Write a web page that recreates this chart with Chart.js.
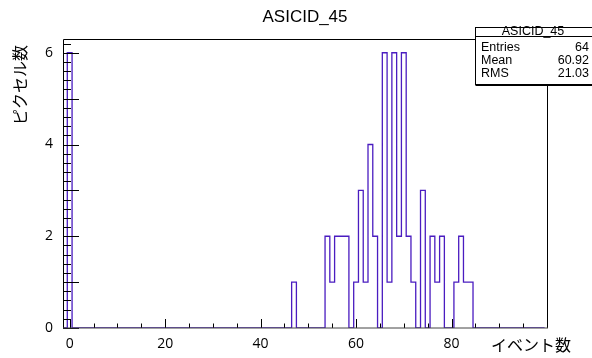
<!DOCTYPE html>
<html>
<head>
<meta charset="utf-8">
<script src="https://cdn.jsdelivr.net/npm/chart.js@4/dist/chart.umd.min.js"></script>
<style>
  html, body { margin: 0; padding: 0; background: #fff; }
  #wrap { width: 592px; height: 358px; position: relative; }
</style>
</head>
<body>
<div id="wrap"><canvas id="hist"></canvas></div>
<script>
const TITLE = 'ASICID_45';
const X_TITLE = 'イベント数';
const Y_TITLE = 'ピクセル数';

// filled bins (bin centre) and their counts, everything else is empty
const filledBins = [0, 47, 54, 55, 56, 57, 58, 60, 61, 62, 63, 64, 66, 67, 68, 69, 70, 71, 72, 74, 76, 77, 78, 81, 82, 83, 84];
const binCounts  = [6, 1, 2, 1, 2, 2, 2, 1, 3, 1, 4, 2, 6, 1, 6, 2, 6, 2, 1, 3, 2, 1, 2, 1, 2, 1, 1];

const xTickLabels = [0, 20, 40, 60, 80];
const yTickLabels = [0, 2, 4, 6];

const statsLabels = ['Entries', 'Mean', 'RMS'];
const statsValues = ['64', '60.92', '21.03'];

const LINE_COLOR = '#4a1cc0';

function buildSteps() {
  const pts = [];
  for (let b = -1; b <= 99; b++) {
    const i = filledBins.indexOf(b);
    pts.push({ x: b - 0.5, y: i >= 0 ? binCounts[i] : 0 });
  }
  pts.push({ x: 99.5, y: 0 });
  return pts;
}

// frame + inward ticks like a ROOT pad
const framePlugin = {
  id: 'frame',
  afterDatasetsDraw(chart) {
    const { ctx, chartArea: a, scales } = chart;
    const xs = scales.x, ys = scales.y;
    ctx.save();
    ctx.strokeStyle = '#000';
    ctx.lineWidth = 1;
    ctx.beginPath();
    // x ticks: every 5 small, every 20 big
    for (let v = 0; v <= 100; v += 5) {
      const px = Math.round(xs.getPixelForValue(v)) + 0.5;
      const len = v % 20 === 0 ? 9 : 4.5;
      ctx.moveTo(px, a.bottom);
      ctx.lineTo(px, a.bottom - len);
    }
    // y ticks: every 0.2 small, every 1 big
    for (let k = 0; k <= 31; k++) {
      const v = k / 5;
      const py = Math.round(ys.getPixelForValue(v)) + 0.5;
      const len = k % 5 === 0 ? 16 : 8;
      ctx.moveTo(a.left, py);
      ctx.lineTo(a.left + len, py);
    }
    ctx.stroke();
    const l = Math.round(a.left) + 0.5, t = Math.round(a.top) + 0.5;
    const r = Math.round(a.right) + 0.5, b = Math.round(a.bottom);
    ctx.beginPath();
    ctx.moveTo(l, b);
    ctx.lineTo(l, t);
    ctx.lineTo(r, t);
    ctx.lineTo(r, b);
    ctx.stroke();
    // bottom axis, soft grey like the reference
    ctx.strokeStyle = '#444';
    ctx.beginPath();
    ctx.moveTo(l - 0.5, b);
    ctx.lineTo(r + 0.5, b);
    ctx.stroke();
    ctx.restore();
  },
  afterDraw(chart) {
    const { ctx, chartArea: a } = chart;
    ctx.save();
    ctx.fillStyle = '#000';
    ctx.textAlign = 'center';
    ctx.textBaseline = 'middle';
    ctx.font = '17px "Liberation Sans", Arial, sans-serif';
    ctx.fillText(TITLE, (a.left + a.right) / 2, 17);

    ctx.font = '16px "Noto Sans CJK JP", sans-serif';
    ctx.fillText(X_TITLE, 531, 345);
    ctx.save();
    ctx.translate(20, 85);
    ctx.rotate(-Math.PI / 2);
    ctx.fillText(Y_TITLE, 0, 0);
    ctx.restore();

    // stats box
    const bx = 475.5, by = 27.5, bw = 120, bh = 57;
    ctx.fillStyle = '#fff';
    ctx.fillRect(bx, by, bw, bh);
    ctx.strokeStyle = '#000';
    ctx.lineWidth = 1;
    ctx.strokeRect(bx, by, bw, bh);
    ctx.beginPath();
    ctx.moveTo(bx, by + bh + 1);
    ctx.lineTo(bx + bw, by + bh + 1);
    ctx.moveTo(bx, 36.5);
    ctx.lineTo(bx + bw, 36.5);
    ctx.stroke();
    ctx.fillStyle = '#000';
    ctx.font = '12.5px "Liberation Sans", Arial, sans-serif';
    ctx.textAlign = 'center';
    ctx.fillText(TITLE, 533, 32);
    statsLabels.forEach((lab, i) => {
      const ty = 48 + i * 13;
      ctx.textAlign = 'left';
      ctx.fillText(lab, 481, ty);
      ctx.textAlign = 'right';
      ctx.fillText(statsValues[i], 589, ty);
    });
    ctx.restore();
  }
};

new Chart(document.getElementById('hist'), {
  type: 'line',
  data: {
    datasets: [{
      label: TITLE,
      data: buildSteps(),
      stepped: true,
      borderColor: LINE_COLOR,
      borderWidth: 1.3,
      pointRadius: 0,
      fill: false,
      tension: 0
    }]
  },
  options: {
    animation: false,
    responsive: true,
    maintainAspectRatio: false,
    layout: { padding: { top: 39, right: 45, left: 0, bottom: 0 } },
    plugins: { legend: { display: false }, tooltip: { enabled: false } },
    scales: {
      x: {
        type: 'linear',
        min: -1.4,
        max: 100,
        grid: { display: false, drawTicks: false },
        border: { display: false },
        afterBuildTicks: s => { s.ticks = xTickLabels.map(v => ({ value: v })); },
        afterFit: s => { s.height = 30; },
        ticks: { color: '#000', padding: 8, maxRotation: 0, autoSkip: false,
                 font: { family: '"Open Sans", sans-serif', size: 14 } }
      },
      y: {
        min: 0,
        max: 6.3,
        grid: { display: false, drawTicks: false },
        border: { display: false },
        afterBuildTicks: s => { s.ticks = yTickLabels.map(v => ({ value: v })); },
        afterFit: s => { s.width = 63; },
        ticks: { color: '#000', padding: 10,
                 font: { family: '"Open Sans", sans-serif', size: 14 } }
      }
    }
  },
  plugins: [framePlugin]
});
</script>
</body>
</html>
